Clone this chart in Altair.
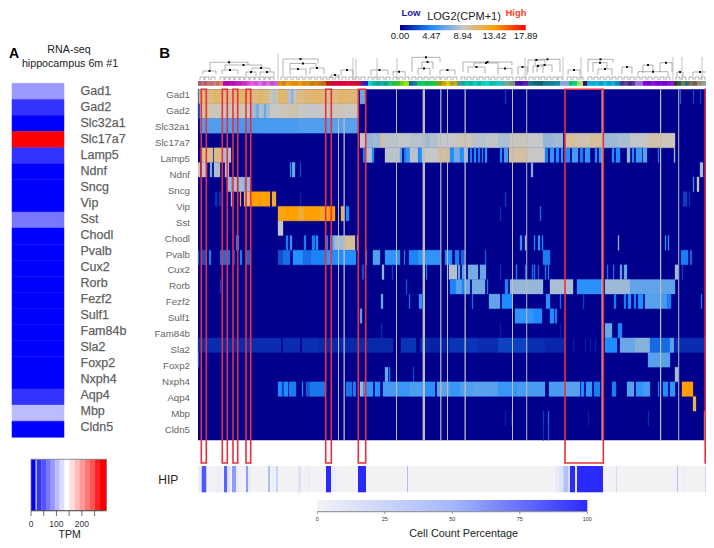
import altair as alt

# ---------- panel A ----------
genes_a = ["Gad1","Gad2","Slc32a1","Slc17a7","Lamp5","Ndnf","Sncg","Vip","Sst","Chodl","Pvalb","Cux2","Rorb","Fezf2","Sulf1","Fam84b","Sla2","Foxp2","Nxph4","Aqp4","Mbp","Cldn5"]
tpm_a = [87,30,10,280,30,4,2,3,65,1,3,5,4,3,3,2,6,2,3,35,105,8]
tpm_breaks = [20,40,59,78,95,113,132,151,172,190,210,229,249,268]
tpm_colors = ["#0000ff","#3333ff","#5555ff","#7777ff","#9999ff","#bbbbff","#ddddff","#ffffff","#ffdddd","#ffbbbb","#ff9999","#ff7777","#ff5555","#ff2222","#ff0000"]
tpm_ticks = [0,50,100,150,200,250]
tpm_labels = [0,100,200]

# ---------- panel B heat map: segments are (start, end, LOG2 value) along the cluster axis ----------
r0 = [(0,1,3),(1,8,10.9),(8,16,10.5),(16,22,11.1),(22,30,10.6),(30,36,10.2),(36,42,10.8),(42,52,11.1),(52,60,10.6),(60,66,11),(66,72,10.4),(72,75,9.2),(75,78,8.4),(78,80,9.5),(80,90,10.9),(90,93,8.4),(93,96,7.6),(96,98,9),(98,106,10.4),(106,112,10.8),(112,125,11),(125,132,10.3),(132,140,10.6),(140,150,11),(150,160,10.8),(162,167,6.5),(307,308,2),(482,483,3),(495,496,2.5),(502,503,2)]
r1 = [(0,2,2),(2,10,10),(10,18,9.4),(18,28,9.2),(28,35,9),(35,45,9.4),(45,53,9.1),(53,58,8),(58,61,6.8),(61,66,8.2),(66,68,6.5),(68,72,8),(72,82,9),(82,90,9.3),(90,100,9.5),(100,110,9),(110,120,8.8),(120,130,9),(130,145,9.3),(145,160,9.1)]
r2 = [(2,35,5.8),(35,60,5.5),(60,100,5.6),(100,130,5.8),(130,160,6)]
r3 = [(162,168,8.8),(168,175,7.6),(175,183,7.9),(183,186,9.8),(186,200,8.6),(200,212,8.8),(212,225,8.5),(225,232,7.9),(232,240,8.4),(240,258,8.9),(258,275,9.3),(275,288,8.5),(288,300,8.7),(300,312,8.2),(312,330,9.2),(330,345,8.9),(345,355,7.6),(355,365,7.9),(367,378,9.9),(378,392,9.5),(392,405,10),(405,420,7.8),(420,432,8.1),(432,450,8.8),(450,465,9.6),(465,477,9.3)]
r4 = [(3,15,10.2),(16,24,10.4),(24,29,8),(30,33,8.5),(165,168,4),(168,174,8.4),(174,176,4.5),(187,202,8.6),(202,204,6),(206,208,4),(208,212,5),(212,220,8.6),(220,224,4.5),(224,240,8.9),(240,252,9.9),(252,256,4.5),(256,262,6.8),(262,266,4.5),(266,270,7.8),(272,274,4),(276,278,4.5),(280,282,4),(284,285,4.5),(287,289,5),(302,304,4.5),(306,310,5.5),(311,330,9.8),(330,347,9),(347,350,4),(352,356,5),(358,361,4.5),(363,365,5),(367,372,4.5),(374,380,5.5),(382,385,4),(387,392,5),(397,399,4.5),(401,404,5),(414,416,4.5),(418,422,4.5),(429,432,7.5),(434,436,4.5),(438,444,5.2),(445,449,6),(460,461,4),(476,477,8)]
r5 = [(0,2,9.5),(3,9,8.8),(12,14,6.8),(16,22,8.3),(27,31,8.5),(92,93,5),(94,97,6.5),(102,103,2.5),(333,335,7),(502,505,8)]
r6 = [(29,33,8),(33,35,6.5),(35,39,8.2),(39,41,6),(41,46,8),(46,49,6.5),(49,52,7.8),(495,496,5),(499,501,9.5)]
r7 = [(17,19,1.5),(21,23,1.5),(33,34,8),(42,43,12),(46,49,11),(49,52,10),(53,72,13.4),(74,78,12.2),(102,103,1.2),(307,308,2),(485,489,2),(491,492,1.5)]
r8 = [(80,86,13),(86,100,13.4),(100,106,12.2),(106,122,13.3),(122,130,12.6),(130,137,13.4),(143,146,11.5),(148,151,4.5),(302,303,1.5),(342,343,3.5)]
r9 = [(80,85,8.8)]
r10 = [(38,41,4),(88,90,4),(92,94,5),(106,108,4),(114,117,4),(118,120,4.5),(127,130,4),(132,135,5),(135,137,7),(137,147,8),(147,157,10),(159,160,8),(322,324,5),(327,328,8),(336,337,4.5),(340,342,5),(344,345,4.5),(420,421,7.5),(467,468,5),(470,471,5)]
r11 = [(0,1,3),(3,8,2.5),(11,13,4),(22,32,3.5),(35,37,2.5),(42,44,4),(48,52,3.2),(80,85,2.5),(85,92,3.5),(95,105,4.6),(105,113,3.5),(113,127,4.2),(127,135,5),(135,158,4.6),(168,169,4),(175,182,5.8),(187,202,5),(206,207,4),(211,220,4.2),(220,242,5),(247,254,4.6),(257,261,4),(263,267,3.2),(287,288,3),(345,352,4),(483,490,4),(492,494,3)]
r12 = [(164,166,2.5),(184,186,7.5),(194,195,2),(228,229,4),(249,250,3),(251,259,8.4),(260,262,6.5),(264,268,6),(270,280,6.8),(282,288,6.5),(302,303,1.5),(318,319,4),(327,328,3.5),(334,335,3.5),(336,337,4),(340,341,3),(347,348,4),(350,351,4),(409,410,3.5),(415,416,3.5),(422,424,6),(426,429,6.5),(477,480,8),(484,485,2)]
r13 = [(22,23,2),(208,209,3),(252,258,4.2),(258,264,6),(264,267,4.2),(267,272,6.5),(274,287,6.8),(289,290,4),(307,310,4.2),(312,345,7.6),(352,375,8.2),(379,404,4.8),(407,432,7.8),(432,477,6.2)]
r14 = [(183,185,6.5),(211,212,3.5),(221,224,5),(274,275,3.5),(291,302,6.2),(304,314,4.5),(348,352,4.8),(362,363,3.5),(385,386,2),(416,418,4),(426,428,4),(430,433,4.5),(436,438,4),(440,445,4.5),(447,462,6),(462,469,5.5),(469,473,4),(503,504,4)]
r15 = [(162,164,6),(317,336,5),(336,344,4.5),(352,356,4.5),(357,359,4)]
r16 = [(183,184,1.5),(302,303,1),(362,363,1),(407,414,6.5),(420,424,4.2)]
r17 = [(0,83,1.4),(85,102,1.4),(104,120,1.5),(120,195,1.3),(203,218,1.7),(222,232,1.3),(232,252,1.1),(252,280,1.7),(280,300,1.4),(300,330,2.1),(330,347,1.5),(347,367,1.2),(375,376,1),(387,388,1),(392,393,1),(397,398,1),(407,419,4.5),(422,437,6.5),(437,452,7.2),(452,472,3.4),(472,476,6),(477,507,1.4)]
r18 = [(0,1,3),(450,472,6)]
r19 = [(187,190,6.5),(191,192,4),(215,216,2.5),(477,480,8)]
r20 = [(80,84,4.4),(84,86,2),(86,90,4.5),(91,98,4),(104,105,4.5),(108,112,2.8),(112,127,3.8),(148,154,3.6),(155,158,3.8),(162,165,7.8),(165,175,5),(177,182,4.6),(185,200,5.6),(200,212,5.2),(212,224,5.7),(224,237,4.8),(239,252,6),(252,262,5.2),(262,275,5.8),(275,300,6),(300,320,5.2),(320,347,5.6),(351,365,5.6),(365,382,6),(383,386,4.5),(388,394,5),(396,402,4),(414,418,4),(429,436,6),(438,445,5),(445,452,5.5),(460,461,4),(465,470,4.5),(472,477,5),(484,495,13.4)]
r21 = [(495,498,11.5)]
r22 = [(307,308,1.2),(313,314,1),(345,346,2),(350,351,3.5),(390,391,1),(450,451,1.5),(506,507,11),(507,510,13)]
r23 = [(345,346,1.5),(350,351,3),(506,507,11),(507,510,13)]
heat_rows = [r0,r1,r2,r3,r4,r5,r6,r7,r8,r9,r10,r11,r12,r13,r14,r15,r16,r17,r18,r19,r20,r21,r22,r23]
heat_labels = ["Gad1","Gad2","Slc32a1","Slc17a7","Lamp5","Ndnf","Sncg","Vip","Sst","Chodl","Pvalb","Cux2","Rorb","Fezf2","Sulf1","Fam84b","Sla2","Foxp2","Nxph4","Aqp4","Mbp","Cldn5"]

# grey empty columns: (start, end, first row)
gap_columns = [(140,141,2),(145.5,146.8,2),(198,199,0),(224.6,227,0),(242.2,243.4,0),(249,250,0),(266.5,267.8,0),(314,315,0),(328.2,329.2,0),(403.5,406,0),(462,463.2,0),(480.2,481.2,0)]
# red outlined regions
red_boxes = [(3.3,8.3),(24.3,29.3),(35,39.7),(48,52.7),(127.7,133.3),(160.3,167.7),(367,405.3),(507.2,509.5)]

# HIP strip: (start, end, percentage)
hip = [(1,3,6),(3,4,40),(4,8,85),(8,9,30),(18,24,4),(26,29,80),(29,32,15),(34,38,60),(38,41,6),(48,50,60),(50,52,8),(70,72,45),(74,76,5),(78,80,28),(100,103,14),(110,111,10),(128,133,100),(134,138,6),(160,168,100),(209,210,45),(357,361,6),(361,365,14),(365,366,28),(366,370,42),(370,372,18),(372,377,100),(377,379,10),(379,405,100),(418,419,20),(479,480,42),(485,486,8),(507,510,25)]
count_ticks = [0,25,50,75,100]

cbar_ticks = [0.00,4.47,8.94,13.42,17.89]

# colour strip below the dendrogram: start of each cluster group and its colour
strip_starts = [0,3,6,9,12,15,18,21,25,28,31,34,37,40,43,46,49,52,56,60,64,68,72,76,80,84,88,92,96,100,104,108,112,116,120,124,128,132,136,140,144,148,152,156,160,163,166,170,174,178,182,186,190,194,198,202,206,211,215,219,223,227,231,235,240,244,248,252,256,259,263,267,271,275,279,283,287,291,295,299,303,307,311,317,321,325,330,335,340,345,350,357,362,367,371,375,379,382,385,389,393,397,401,405,409,413,417,422,426,430,434,437,441,445,449,453,457,461,465,469,473,476,479,483,487,491,495,499,503,507,510]
strip_colors = ["#b0586c","#c06a70","#b05a78","#c87468","#b8706c","#d07a70","#c86c64","#e08060","#c000a8","#a800b0","#d000c0","#b010b0","#c818b8","#b820c0","#d028c8","#c830c8","#e040d8","#e858e0","#d050e0","#e068e8","#c850d0","#d868e0","#c050c8","#d060d8","#e09000","#d88000","#e8a000","#f08800","#e09000","#f09800","#d88810","#e08800","#c08010","#e08000","#c87810","#b87010","#d01818","#c01030","#e00040","#d00838","#e80040","#d81030","#e00048","#c81028","#c80838","#6010c0","#2020d0","#00d8c8","#00b8a0","#00a890","#10b0a0","#00a880","#20c080","#20c040","#40c020","#70d010","#90e000","#106898","#1878a8","#10c050","#00d060","#18b848","#00c858","#30c030","#a89000","#c0a800","#d8c800","#b0a010","#c8b000","#509890","#20a0a0","#00c8b0","#10b098","#00d0c0","#00b8b0","#10c8b8","#00d8d0","#00c0b8","#20b8b0","#00d0d0","#50b0a0","#80a090","#709878","#5010b0","#4010a0","#6018b8","#107888","#106878","#0c6070","#187890","#1080a0","#1888a8","#80a8e0","#90a0e0","#00c870","#10d080","#90e060","#b0e070","#301060","#00b0e0","#10a8d8","#00b8e8","#0898c8","#10b8e0","#00a0d0","#20a8d8","#0090c0","#503090","#604098","#402880","#583898","#a070e0","#9868d8","#8000e0","#7000d0","#8810e0","#7800d8","#8000e8","#6800c8","#8808d8","#9018e0","#204020","#405040","#508070","#406858","#807060","#706050","#a08878","#90a090","#70b080"]

# dendrogram: (left, right, height, left child height, right child height)
brackets = [(12,50,18.7,10,16),(5,18,10,7,7),(27,64,16,11,13),(24,40,11,7,7),(54,72,13,9,9),(48,58,9,5,5),(62,76,9,5,5),(85,120,22,5,17.5),(92,118,17.5,12,13),(92,108,12,6,6),(112,126,13,7,7),(133,141,6,3,3),(143,155,11,5,5),(173,190,11,6,6),(195,207,9.3,5,5),(214,242,23.7,9,19),(224,235,19,12.6,12),(220,232,12.6,6,6),(242,257,11,6,6),(265,314,19,9,16),(276,300,18,14,12.6),(270,287,14,8,8),(300,314,12.6,6,6),(320,329,14,6,6),(330,347,21,9,15),(335,345,15,8,8),(337,362,21.7,16,9),(339,354,16,9,9),(370,382,11,6,6),(390,415,21.7,9,18.3),(395,409,18.3,9,12),(400,414,12,6,6),(424,434,14,7,7),(440,470,9.3,5,5),(445,455,16,8,8),(462,474,18.3,9,9),(479,485,9,5,5),(495,509,9,5,5)]
tall_lines = [(80,27),(155,23),(158,22),(179,23),(199,23),(327,23),(365,24),(383,24),(475,24),(484,24),(504,24)]
leaf_arches = [4,9,15,24,29,34,39,44,49,54,59,64,69,74,85,91,97,103,109,115,121,127,133,139,146,153,159,165,172,178,184,190,197,203,209,216,222,228,234,240,245,251,257,265,271,277,283,289,295,301,307,313,320,326,333,339,345,351,357,362,371,377,383,392,398,404,410,416,422,428,434,440,446,452,458,464,470,480,486,493,499,505]

FONT = "Liberation Sans"
HEAT_DOMAIN = [0,4.47,8.94,13.42,17.89]
HEAT_RANGE = ["#00008c","#1e8cff","#c8c8c8","#ffa000","#ff0000"]
NAVY = "#00008c"
COUNT_RANGE = ["#f2f2f5","#a4b8ff","#2a2aff"]


def px(v):
    return v - 8


def qx(field, dom=(0, 510), rng=(198, 708)):
    return alt.X(field, type="quantitative", scale=alt.Scale(domain=list(dom), range=[px(rng[0]), px(rng[1])], nice=False, zero=False), axis=None)


def qy(field, dom=(0, 24), rng=(89.3, 440.3)):
    return alt.Y(field, type="quantitative", scale=alt.Scale(domain=list(dom), range=[px(rng[0]), px(rng[1])], nice=False, zero=False), axis=None)


def note(txt, x, y, size, color="#222", weight="normal", align="center"):
    return alt.Chart(alt.Data(values=[{"t": txt}])).mark_text(
        font=FONT, fontSize=size, color=color, fontWeight=weight, align=align, baseline="middle"
    ).encode(x=alt.value(px(x)), y=alt.value(px(y)), text="t:N")


heat_recs = []
for i, row in enumerate(heat_rows):
    for a, b, v in row:
        heat_recs.append({"a": a, "b": b, "r0": i, "r1": i + 1, "v": v})

layers = []

# Panel A
TPM_SCALE = alt.Scale(type="threshold", domain=tpm_breaks, range=tpm_colors)
layers.append(
    alt.Chart(alt.Data(values=[{"g": g, "r0": i, "r1": i + 1, "v": v} for i, (g, v) in enumerate(zip(genes_a, tpm_a))])).mark_rect(strokeWidth=0.5).encode(
        x=alt.value(px(12)), x2=alt.value(px(64)),
        y=qy("r0", (0, 22), (83.3, 437.3)), y2="r1:Q",
        color=alt.Color("v:Q", scale=TPM_SCALE, legend=None),
        stroke=alt.Stroke("v:Q", scale=TPM_SCALE, legend=None),
    )
)
layers.append(
    alt.Chart(alt.Data(values=[{"g": g, "i": i} for i, g in enumerate(genes_a)])).mark_text(
        font=FONT, fontSize=12.5, color="#555", align="left", baseline="middle", stroke="#777", strokeWidth=0.25
    ).encode(x=alt.value(px(80.5)), y=qy("i", (0, 21), (90.7, 426.7)), text="g:N")
)
# TPM key
layers.append(
    alt.Chart(alt.Data(values=[{"a": ([0] + tpm_breaks)[i], "b": (tpm_breaks + [297])[i], "c": tpm_colors[i]} for i in range(len(tpm_colors))])).mark_rect().encode(
        x=qx("a", (0, 295), (31, 106)), x2="b:Q",
        y=alt.value(px(459.3)), y2=alt.value(px(510.7)),
        color=alt.Color("c:N", scale=None),
    )
)
layers.append(
    alt.Chart(alt.Data(values=[{"x": 20}])).mark_rule(color="#ffffff", strokeWidth=1).encode(
        x=qx("x", (0, 295), (31, 106)), y=alt.value(px(459.3)), y2=alt.value(px(510.7)))
)
layers.append(
    alt.Chart(alt.Data(values=[{"a": 0, "b": 297}])).mark_rect(fill=None, stroke="#777", strokeWidth=0.8).encode(
        x=qx("a", (0, 295), (31, 106)), x2="b:Q", y=alt.value(px(459.3)), y2=alt.value(px(510.7)))
)
layers.append(
    alt.Chart(alt.Data(values=[{"x": t} for t in tpm_ticks])).mark_rule(color="#333", strokeWidth=0.7).encode(
        x=qx("x", (0, 295), (31, 106)), y=alt.value(px(510.7)), y2=alt.value(px(516)))
)
layers.append(
    alt.Chart(alt.Data(values=[{"x": t, "t": str(t)} for t in tpm_labels])).mark_text(font=FONT, fontSize=8.5, color="#333", baseline="middle").encode(
        x=qx("x", (0, 295), (31, 106)), y=alt.value(px(523.5)), text="t:N")
)
layers.append(
    alt.Chart(alt.Data(values=[{"a": 0, "b": 295}])).mark_rule(color="#333", strokeWidth=0.7).encode(
        x=qx("a", (0, 295), (31, 106)), x2="b:Q", y=alt.value(px(510.7)))
)
layers += [
    note("TPM", 69.7, 534.5, 10.5),
    note("RNA-seq", 69, 50, 10.7),
    note("hippocampus 6m #1", 70, 63.5, 10.7),
    note("A", 14, 54, 14, "#000", "bold"),
    note("B", 164.7, 52.7, 15, "#000", "bold"),
    note("HIP", 168.3, 479.5, 12, "#222"),
    note("Low", 411, 12.5, 9.5, "#1a1aa8", "bold"),
    note("High", 516, 12.5, 9.5, "#ff4020", "bold"),
    note("LOG2(CPM+1)", 464, 16.5, 11, "#222"),
    note("Cell Count Percentage", 463.6, 534, 10.8, "#222"),
]

# Top colour key
cbar_gradient = alt.LinearGradient(gradient="linear", x1=0, x2=1, y1=0, y2=0, stops=[
    alt.GradientStop(offset=o, color=c) for o, c in zip([0, .25, .5, .75, 1], HEAT_RANGE)])
layers.append(
    alt.Chart(alt.Data(values=[{"a": 0, "b": 17.89}])).mark_rect(color=cbar_gradient).encode(
        x=qx("a", (0, 17.89), (400, 525.7)), x2="b:Q", y=alt.value(px(25)), y2=alt.value(px(30.3)))
)
layers.append(
    alt.Chart(alt.Data(values=[{"x": t, "t": f"{t:.2f}"} for t in cbar_ticks])).mark_text(font=FONT, fontSize=9.5, color="#222", baseline="middle").encode(
        x=qx("x", (0, 17.89), (400, 525.7)), y=alt.value(px(36.3)), text="t:N")
)

# Dendrogram
dend = []
for l, r, h, hl, hr in brackets:
    dend += [{"a": l, "b": r, "h": h, "k": h}, {"a": l, "b": l, "h": h, "k": hl}, {"a": r, "b": r, "h": h, "k": hr}]
for x in leaf_arches:
    dend += [{"a": x - 2, "b": x + 2, "h": 4, "k": 4}, {"a": x - 2, "b": x - 2, "h": 4, "k": 1}, {"a": x + 2, "b": x + 2, "h": 4, "k": 1}]
layers.append(
    alt.Chart(alt.Data(values=dend)).mark_rule(color="#666", strokeWidth=0.5).encode(
        x=qx("a"), x2="b:Q", y=qy("h", (0, 31), (81, 50)), y2="k:Q")
)
layers.append(
    alt.Chart(alt.Data(values=[{"a": x, "h": h, "k": 1} for x, h in tall_lines])).mark_rule(color="#aaa", strokeWidth=0.7).encode(
        x=qx("a"), y=qy("h", (0, 31), (81, 50)), y2="k:Q")
)
layers.append(
    alt.Chart(alt.Data(values=[{"a": (l + r) / 2, "h": h} for l, r, h, _, _ in brackets])).mark_point(shape="square", filled=True, color="#111", size=4, opacity=1).encode(
        x=qx("a"), y=qy("h", (0, 31), (81, 50)))
)
# Colour strip
layers.append(
    alt.Chart(alt.Data(values=[{"a": strip_starts[i], "b": strip_starts[i + 1], "c": strip_colors[i]} for i in range(len(strip_colors))])).mark_rect().encode(
        x=qx("a"), x2="b:Q", y=alt.value(px(81)), y2=alt.value(px(85.8)), color=alt.Color("c:N", scale=None))
)

# Heat map
layers.append(
    alt.Chart(alt.Data(values=[{"a": 0, "b": 510, "r0": 0, "r1": 24}])).mark_rect(color=NAVY).encode(
        x=qx("a"), x2="b:Q", y=qy("r0"), y2="r1:Q")
)
HEAT_SCALE = alt.Scale(domain=HEAT_DOMAIN, range=HEAT_RANGE, interpolate="rgb")
layers.append(
    alt.Chart(alt.Data(values=heat_recs)).mark_rect(strokeWidth=0.3).encode(
        x=qx("a"), x2="b:Q", y=qy("r0"), y2="r1:Q",
        color=alt.Color("v:Q", scale=HEAT_SCALE, legend=None),
        stroke=alt.Stroke("v:Q", scale=HEAT_SCALE, legend=None))
)
layers.append(
    alt.Chart(alt.Data(values=[{"a": a, "b": b, "r0": r, "r1": 24} for a, b, r in gap_columns])).mark_rect(color="#bdbdbd").encode(
        x=qx("a"), x2="b:Q", y=qy("r0"), y2="r1:Q")
)
layers.append(
    alt.Chart(alt.Data(values=[{"g": g, "i": i} for i, g in enumerate(heat_labels)])).mark_text(
        font=FONT, fontSize=9.7, color="#666", align="right", baseline="middle"
    ).encode(x=alt.value(px(190)), y=qy("i", (0, 21), (95, 430)), text="g:N")
)

# HIP strip
layers.append(
    alt.Chart(alt.Data(values=[{"a": 0, "b": 510}])).mark_rect(color="#f2f2f5").encode(
        x=qx("a"), x2="b:Q", y=alt.value(px(466)), y2=alt.value(px(492.3)))
)
HIP_SCALE = alt.Scale(domain=[0, 50, 100], range=COUNT_RANGE, interpolate="rgb")
layers.append(
    alt.Chart(alt.Data(values=[{"a": a, "b": b, "v": v} for a, b, v in hip])).mark_rect().encode(
        x=qx("a"), x2="b:Q", y=alt.value(px(466)), y2=alt.value(px(492.3)),
        color=alt.Color("v:Q", scale=HIP_SCALE, legend=None))
)
# Red boxes
layers.append(
    alt.Chart(alt.Data(values=[{"a": a, "b": b, "r0": 0, "r1": 25.55} for a, b in red_boxes])).mark_rect(fill=None, stroke="#ea2f3c", strokeWidth=1.6).encode(
        x=qx("a"), x2="b:Q", y=qy("r0"), y2="r1:Q")
)
# Cell count key
count_gradient = alt.LinearGradient(gradient="linear", x1=0, x2=1, y1=0, y2=0, stops=[
    alt.GradientStop(offset=o, color=c) for o, c in zip([0, .5, 1], COUNT_RANGE)])
layers.append(
    alt.Chart(alt.Data(values=[{"a": 0, "b": 100}])).mark_rect(color=count_gradient).encode(
        x=qx("a", (0, 100), (317.3, 587.3)), x2="b:Q", y=alt.value(px(500)), y2=alt.value(px(511.5)))
)
layers.append(
    alt.Chart(alt.Data(values=[{"a": 0, "b": 100}])).mark_rule(color="#888", strokeWidth=1).encode(
        x=qx("a", (0, 100), (317.3, 587.3)), x2="b:Q", y=alt.value(px(511.7)))
)
layers.append(
    alt.Chart(alt.Data(values=[{"x": t} for t in count_ticks])).mark_rule(color="#555", strokeWidth=0.6).encode(
        x=qx("x", (0, 100), (317.3, 587.3)), y=alt.value(px(511.7)), y2=alt.value(px(514)))
)
layers.append(
    alt.Chart(alt.Data(values=[{"x": t, "t": str(t)} for t in count_ticks])).mark_text(font=FONT, fontSize=5.5, color="#333", baseline="middle").encode(
        x=qx("x", (0, 100), (317.3, 587.3)), y=alt.value(px(518.5)), text="t:N")
)

chart = alt.layer(*layers).resolve_scale(x="independent", y="independent", color="independent", stroke="independent").properties(
    width=698, height=532, padding=0, autosize=alt.AutoSizeParams(type="none")
).configure_view(stroke=None)

chart.save("out.html", embed_options={"renderer": "svg", "actions": False})
